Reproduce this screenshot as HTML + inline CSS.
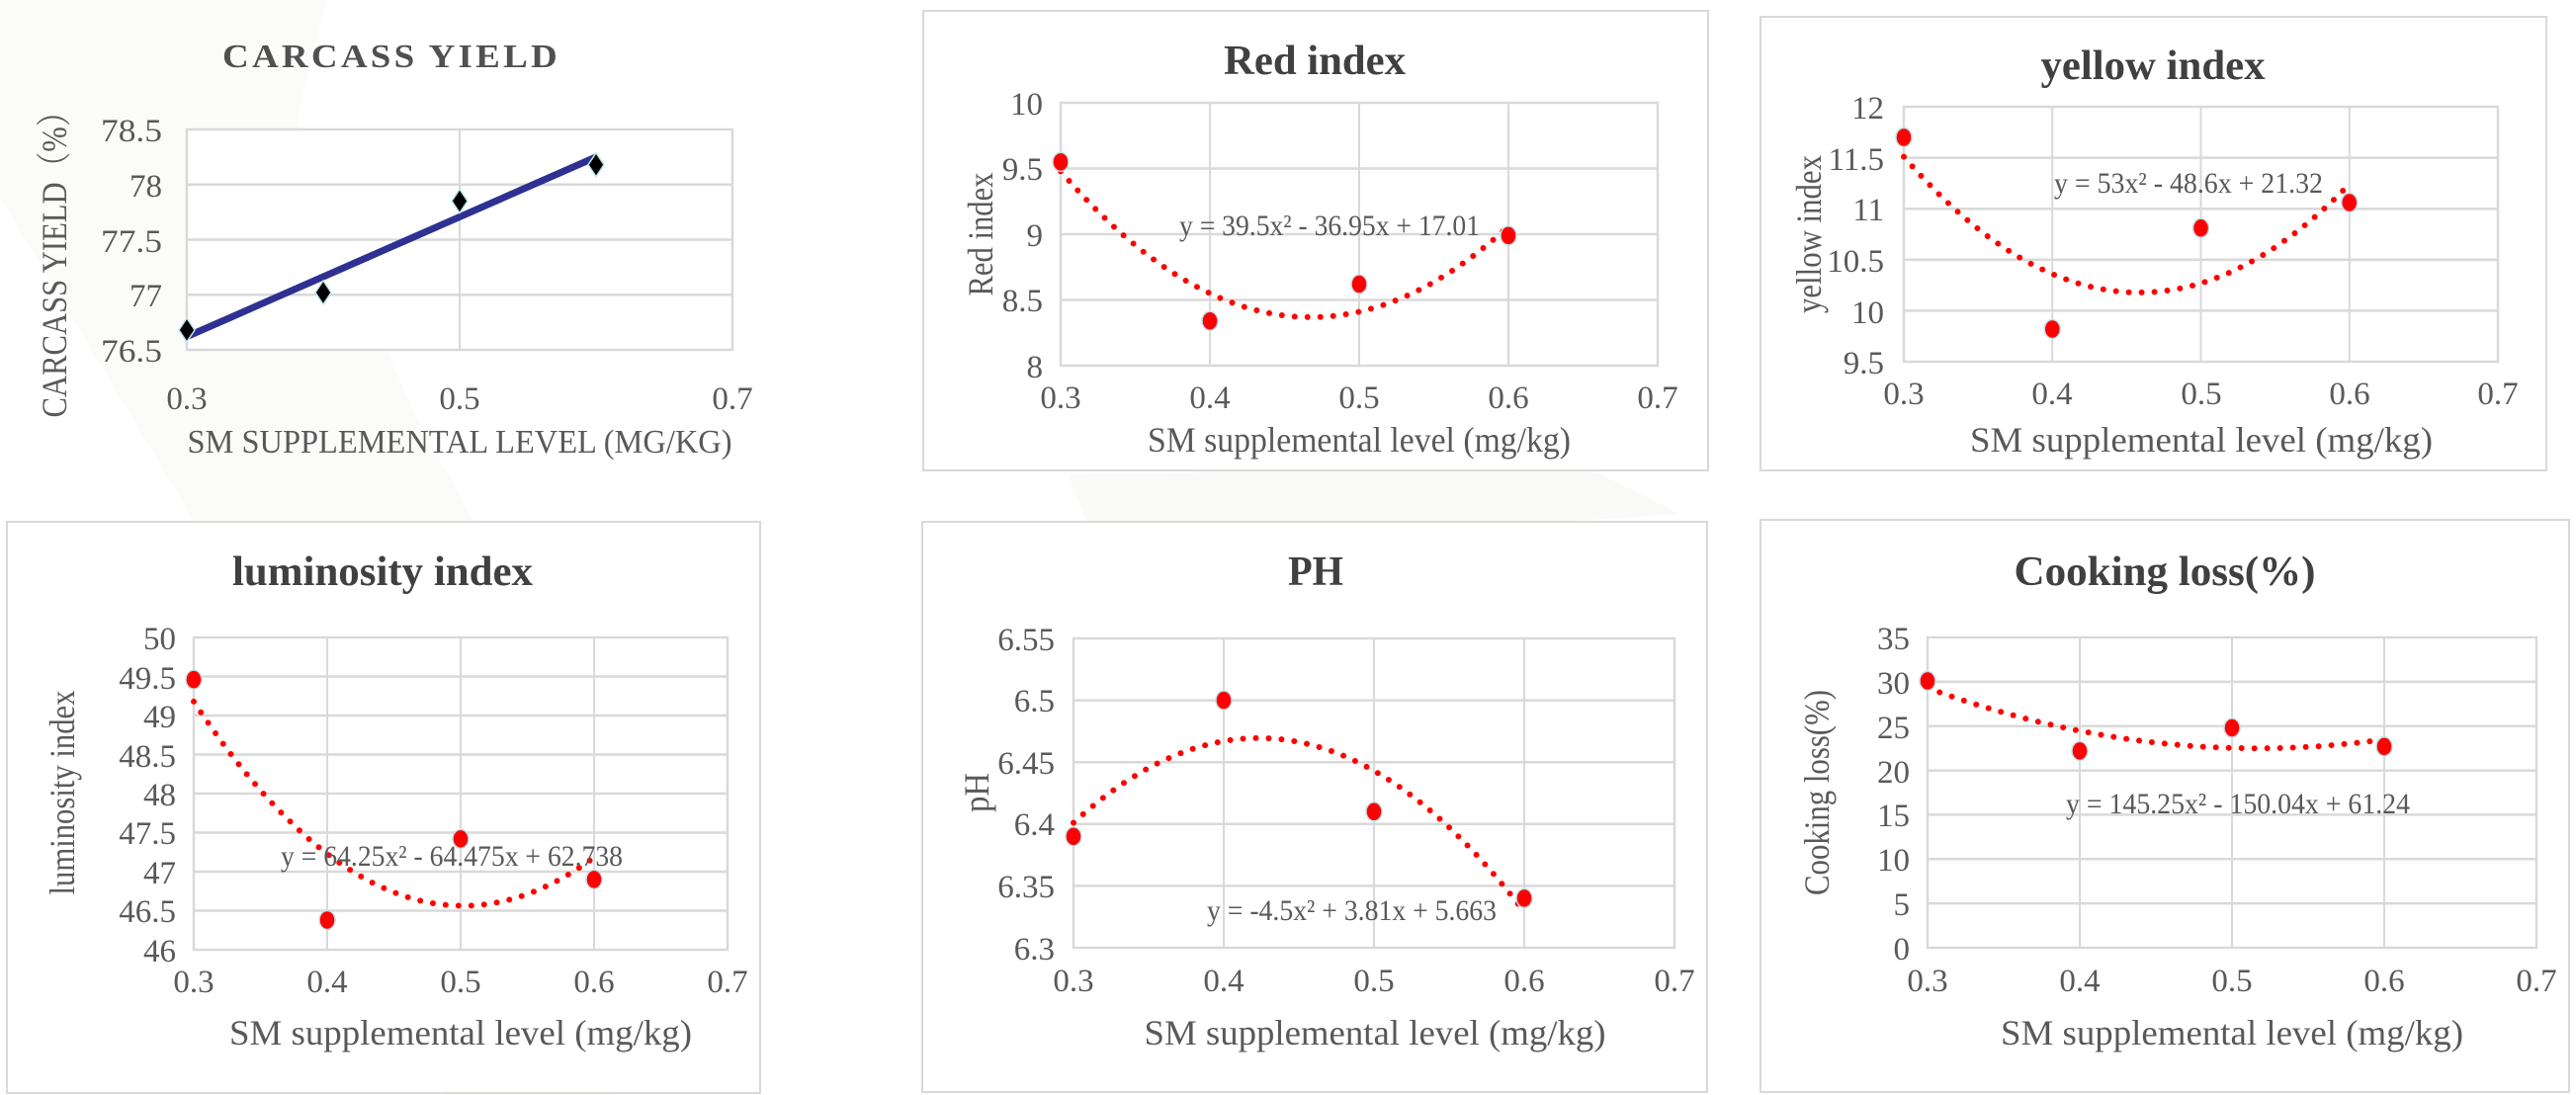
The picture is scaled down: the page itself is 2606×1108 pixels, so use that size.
<!DOCTYPE html>
<html><head><meta charset="utf-8"><style>
html,body{margin:0;padding:0;background:#fff;}
svg{display:block;}
text{font-family:"Liberation Serif","Noto Serif CJK SC",serif;fill:#595959;}
.t{font-weight:bold;fill:#404040;font-size:42px;}
.tk{font-size:33px;}
.ax{font-size:36px;}
.eq{font-size:30px;}
</style></head><body>
<svg id="s" width="2606" height="1108" viewBox="0 0 2606 1108" xmlns="http://www.w3.org/2000/svg">
<rect width="2606" height="1108" fill="#fff"/>
<g fill="#f8f8f6">
<path d="M0 0 L330 0 L300 120 L350 260 L420 420 L520 600 L560 760 L540 900 L620 1108 L450 1108 L380 900 L300 700 L180 500 L60 300 L0 200 Z" opacity="0.5"/>
<path d="M1080 480 L1600 470 L1700 520 L1400 540 L1100 530 Z" opacity="0.7"/>
</g>
<g fill="#fff" stroke="#d9d9d9" stroke-width="2">
<rect x="934" y="11" width="794" height="465"/>
<rect x="1781" y="17" width="795" height="459"/>
<rect x="7" y="528" width="762" height="578"/>
<rect x="933" y="528" width="794" height="577"/>
<rect x="1781" y="526" width="818" height="579"/>
</g>
<g id="plots"></g>

<text class="t" x="396" y="68" text-anchor="middle" style="font-size:34px;fill:#505050" textLength="342" lengthAdjust="spacingAndGlyphs" letter-spacing="3">CARCASS YIELD</text>
<g class="tk" text-anchor="end">
<text x="164" y="143" textLength="62" lengthAdjust="spacingAndGlyphs">78.5</text>
<text x="164" y="199">78</text>
<text x="164" y="255" textLength="62" lengthAdjust="spacingAndGlyphs">77.5</text>
<text x="164" y="310">77</text>
<text x="164" y="366" textLength="62" lengthAdjust="spacingAndGlyphs">76.5</text>
</g>
<g class="tk" text-anchor="middle">
<text x="189" y="414">0.3</text><text x="465" y="414">0.5</text><text x="741" y="414">0.7</text>
</g>
<text class="ax" x="465" y="458" text-anchor="middle" textLength="551" lengthAdjust="spacingAndGlyphs" style="font-size:34px">SM SUPPLEMENTAL LEVEL (MG/KG)</text>
<text class="ax" transform="translate(67,260) rotate(-90)" text-anchor="middle" textLength="325" lengthAdjust="spacingAndGlyphs">CARCASS YIELD（%）</text>

<text class="t" x="1330" y="75" text-anchor="middle" textLength="184" lengthAdjust="spacingAndGlyphs">Red index</text>
<g class="tk" text-anchor="end">
<text x="1055" y="116">10</text><text x="1055" y="182">9.5</text><text x="1055" y="249">9</text><text x="1055" y="315">8.5</text><text x="1055" y="382">8</text>
</g>
<g class="tk" text-anchor="middle">
<text x="1073" y="413">0.3</text><text x="1224" y="413">0.4</text><text x="1375" y="413">0.5</text><text x="1526" y="413">0.6</text><text x="1677" y="413">0.7</text>
</g>
<text class="ax" x="1375" y="457" text-anchor="middle" textLength="428" lengthAdjust="spacingAndGlyphs">SM supplemental level (mg/kg)</text>
<text class="ax" transform="translate(1004,237) rotate(-90)" text-anchor="middle" textLength="125" lengthAdjust="spacingAndGlyphs">Red index</text>
<text class="eq" x="1193" y="238" textLength="304" lengthAdjust="spacingAndGlyphs">y = 39.5x² - 36.95x + 17.01</text>

<text class="t" x="2178" y="80" text-anchor="middle" textLength="227" lengthAdjust="spacingAndGlyphs">yellow index</text>
<g class="tk" text-anchor="end">
<text x="1906" y="120">12</text><text x="1906" y="172">11.5</text><text x="1906" y="223">11</text><text x="1906" y="275">10.5</text><text x="1906" y="327">10</text><text x="1906" y="378">9.5</text>
</g>
<g class="tk" text-anchor="middle">
<text x="1926" y="409">0.3</text><text x="2076" y="409">0.4</text><text x="2227" y="409">0.5</text><text x="2377" y="409">0.6</text><text x="2527" y="409">0.7</text>
</g>
<text class="ax" x="2227" y="457" text-anchor="middle" textLength="468" lengthAdjust="spacingAndGlyphs">SM supplemental level (mg/kg)</text>
<text class="ax" transform="translate(1842,237) rotate(-90)" text-anchor="middle" textLength="160" lengthAdjust="spacingAndGlyphs">yellow index</text>
<text class="eq" x="2078" y="195" textLength="272" lengthAdjust="spacingAndGlyphs">y = 53x² - 48.6x + 21.32</text>

<text class="t" x="387" y="592" text-anchor="middle" textLength="304" lengthAdjust="spacingAndGlyphs">luminosity index</text>
<g class="tk" text-anchor="end">
<text x="178" y="657">50</text><text x="178" y="697">49.5</text><text x="178" y="736">49</text><text x="178" y="776">48.5</text><text x="178" y="815">48</text><text x="178" y="854">47.5</text><text x="178" y="894">47</text><text x="178" y="933">46.5</text><text x="178" y="973">46</text>
</g>
<g class="tk" text-anchor="middle">
<text x="196" y="1004">0.3</text><text x="331" y="1004">0.4</text><text x="466" y="1004">0.5</text><text x="601" y="1004">0.6</text><text x="736" y="1004">0.7</text>
</g>
<text class="ax" x="466" y="1057" text-anchor="middle" textLength="468" lengthAdjust="spacingAndGlyphs">SM supplemental level (mg/kg)</text>
<text class="ax" transform="translate(75,802) rotate(-90)" text-anchor="middle" textLength="207" lengthAdjust="spacingAndGlyphs">luminosity index</text>
<text class="eq" x="284" y="876" textLength="346" lengthAdjust="spacingAndGlyphs">y = 64.25x² - 64.475x + 62.738</text>

<text class="t" x="1331" y="592" text-anchor="middle" textLength="56" lengthAdjust="spacingAndGlyphs">PH</text>
<g class="tk" text-anchor="end">
<text x="1067" y="658">6.55</text><text x="1067" y="720">6.5</text><text x="1067" y="783">6.45</text><text x="1067" y="845">6.4</text><text x="1067" y="908">6.35</text><text x="1067" y="971">6.3</text>
</g>
<g class="tk" text-anchor="middle">
<text x="1086" y="1003">0.3</text><text x="1238" y="1003">0.4</text><text x="1390" y="1003">0.5</text><text x="1542" y="1003">0.6</text><text x="1694" y="1003">0.7</text>
</g>
<text class="ax" x="1391" y="1057" text-anchor="middle" textLength="467" lengthAdjust="spacingAndGlyphs">SM supplemental level (mg/kg)</text>
<text class="ax" transform="translate(1000,802) rotate(-90)" text-anchor="middle" textLength="40" lengthAdjust="spacingAndGlyphs">pH</text>
<text class="eq" x="1221" y="931" textLength="293" lengthAdjust="spacingAndGlyphs">y = -4.5x² + 3.81x + 5.663</text>

<text class="t" x="2190" y="592" text-anchor="middle" textLength="305" lengthAdjust="spacingAndGlyphs">Cooking loss(%)</text>
<g class="tk" text-anchor="end">
<text x="1932" y="657">35</text><text x="1932" y="702">30</text><text x="1932" y="747">25</text><text x="1932" y="792">20</text><text x="1932" y="836">15</text><text x="1932" y="881">10</text><text x="1932" y="926">5</text><text x="1932" y="971">0</text>
</g>
<g class="tk" text-anchor="middle">
<text x="1950" y="1003">0.3</text><text x="2104" y="1003">0.4</text><text x="2258" y="1003">0.5</text><text x="2412" y="1003">0.6</text><text x="2566" y="1003">0.7</text>
</g>
<text class="ax" x="2258" y="1057" text-anchor="middle" textLength="468" lengthAdjust="spacingAndGlyphs">SM supplemental level (mg/kg)</text>
<text class="ax" transform="translate(1850,802) rotate(-90)" text-anchor="middle" textLength="208" lengthAdjust="spacingAndGlyphs">Cooking loss(%)</text>
<text class="eq" x="2090" y="823" textLength="348" lengthAdjust="spacingAndGlyphs">y = 145.25x² - 150.04x + 61.24</text>
</svg>
<script>
(function(){
var NS="http://www.w3.org/2000/svg",g=document.getElementById("plots");
function el(n,a){var e=document.createElementNS(NS,n);for(var k in a)e.setAttribute(k,a[k]);g.appendChild(e);return e;}
var charts=[
{x0:189,x1:741,y0:131,y1:354,xmin:0.3,xmax:0.7,xs:[0.3,0.5,0.7],ymin:76.5,ymax:78.5,ny:4,pts:[76.68,77.02,77.85,78.18],car:1},
{x0:1073,x1:1677,y0:104,y1:370,xmin:0.3,xmax:0.7,xs:[0.3,0.4,0.5,0.6,0.7],ymin:8,ymax:10,ny:4,pts:[9.55,8.34,8.62,8.99],q:[39.5,-36.95,17.01]},
{x0:1926,x1:2527,y0:108,y1:366,xmin:0.3,xmax:0.7,xs:[0.3,0.4,0.5,0.6,0.7],ymin:9.5,ymax:12,ny:5,pts:[11.7,9.82,10.81,11.06],q:[53,-48.6,21.32]},
{x0:196,x1:736,y0:645,y1:961,xmin:0.3,xmax:0.7,xs:[0.3,0.4,0.5,0.6,0.7],ymin:46,ymax:50,ny:8,pts:[49.46,46.38,47.42,46.9],q:[64.25,-64.475,62.738]},
{x0:1086,x1:1694,y0:646,y1:959,xmin:0.3,xmax:0.7,xs:[0.3,0.4,0.5,0.6,0.7],ymin:6.3,ymax:6.55,ny:5,pts:[6.39,6.5,6.41,6.34],q:[-4.5,3.81,5.663]},
{x0:1950,x1:2566,y0:645,y1:959,xmin:0.3,xmax:0.7,xs:[0.3,0.4,0.5,0.6,0.7],ymin:0,ymax:35,ny:7,pts:[30.1,22.2,24.8,22.7],q:[145.25,-150.04,61.24]}
];
charts.forEach(function(c){
 function X(v){return c.x0+(v-c.xmin)/(c.xmax-c.xmin)*(c.x1-c.x0);}
 function Y(v){return c.y1-(v-c.ymin)/(c.ymax-c.ymin)*(c.y1-c.y0);}
 el("rect",{x:c.x0,y:c.y0,width:c.x1-c.x0,height:c.y1-c.y0,fill:"#fff",stroke:"#d9d9d9","stroke-width":2.5});
 for(var i=1;i<c.ny;i++){var y=c.y0+i*(c.y1-c.y0)/c.ny;el("line",{x1:c.x0,x2:c.x1,y1:y,y2:y,stroke:"#d9d9d9","stroke-width":2.5});}
 c.xs.forEach(function(v){var x=X(v);el("line",{x1:x,x2:x,y1:c.y0,y2:c.y1,stroke:"#d9d9d9","stroke-width":2});});
 var xv=[0.3,0.4,0.5,0.6];
 if(c.car){
  el("line",{x1:X(0.3),y1:Y(76.62),x2:X(0.6),y2:Y(78.25),stroke:"#2e3192","stroke-width":7});
  c.pts.forEach(function(p,i){var x=X(xv[i]),y=Y(p);el("path",{d:"M"+x+" "+(y-12)+"L"+(x+8)+" "+y+"L"+x+" "+(y+12)+"L"+(x-8)+" "+y+"Z",fill:"#000",stroke:"#bfe6e6","stroke-width":1.5});});
 } else {
  var d="";for(var k=0;k<=120;k++){var v=0.3+0.3*k/120;var yy=c.q[0]*v*v+c.q[1]*v+c.q[2];d+=(k?"L":"M")+X(v).toFixed(1)+" "+Y(yy).toFixed(1);}
  el("path",{d:d,fill:"none",stroke:"#ff0000","stroke-width":6,"stroke-linecap":"round","stroke-dasharray":"0 13"});
  c.pts.forEach(function(p,i){el("ellipse",{cx:X(xv[i]),cy:Y(p),rx:8,ry:9.5,fill:"#ff0000",stroke:"#bfe0e8","stroke-width":1.5});});
 }
});
})();
</script>
</body></html>
